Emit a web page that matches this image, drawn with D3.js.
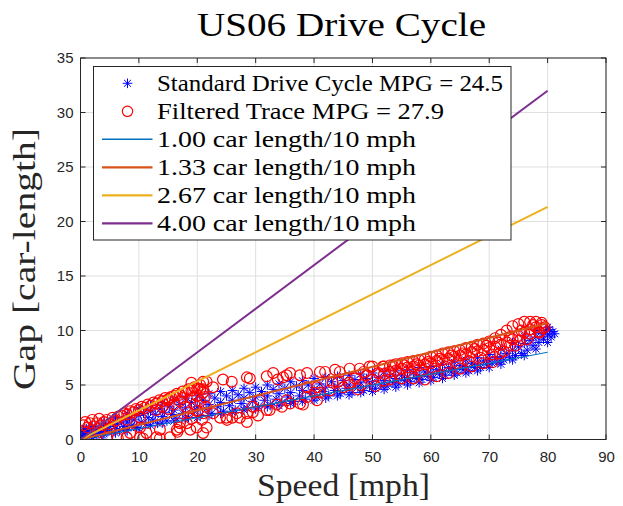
<!DOCTYPE html>
<html><head><meta charset="utf-8">
<script src="https://cdn.jsdelivr.net/npm/d3@7"></script>
<style>body{margin:0;background:#fff}svg{display:block}</style>
</head><body>
<svg id="c" width="623" height="506"></svg>
<script>
const title = "US06 Drive Cycle";
const xLabel = "Speed [mph]";
const yLabel = "Gap [car-length]";
const xTicks = [0,10,20,30,40,50,60,70,80,90];
const yTicks = [0,5,10,15,20,25,30,35];
const legendLabels = ["Standard Drive Cycle MPG = 24.5","Filtered Trace MPG = 27.9","1.00 car length/10 mph","1.33 car length/10 mph","2.67 car length/10 mph","4.00 car length/10 mph"];
const policySlopes = [0.1, 0.1333, 0.2667, 0.4];
const policyColors = ["#0072BD","#D95319","#EDB120","#7E2F8E"];
const policyWidths = [1.1, 2, 2, 2];
const policySpeedRange = [0, 80];

const standardPts = [[0,0.4],[0,0.7],[0.3,0.3],[0.5,0.9],[0.8,0.5],[1,0.2],[1.2,0.7],[1.5,0.4],[1.8,1.0],[2,0.6],[2.3,0.3],[2.6,0.9],[3,0.5],[3.2,1.1],[3.5,0.7],[3.8,0.4],[4,1.0],[4.3,1.3],[4.6,0.8],[5,1.2],[5.3,0.6],[5.6,1.5],[6,1.0],[6.3,1.4],[6.7,0.8],[7,1.7],[7.4,1.2],[7.8,0.9],[8,1.6],[8.4,2.0],[8.8,1.3],[9.2,1.8],[9.6,1.1],[10,2.2],[10.4,1.6],[10.8,2.4],[11.2,1.4],[11.6,2.0],[12,2.6],[12.4,1.8],[12.8,2.3],[13.2,1.5],[13.6,2.8],[14,2.1],[14.4,2.5],[14.8,1.7],[15.2,3.0],[15.6,2.3],[16,2.7],[16.5,1.9],[17,3.2],[17.5,2.4],[18,2.9],[18.5,2.0],[19,3.4],[19.5,2.6],[20,3.0],[20.5,2.2],[21,3.6],[21.5,2.8],[22,3.2],[22.5,2.4],[23,3.8],[23.5,3.0],[24,3.4],[24.5,2.6],[25,4.0],[25.5,3.1],[26,3.6],[26.5,2.7],[27,4.1],[27.5,3.3],[28,3.8],[28.5,2.9],[29,4.3],[29.5,3.5],[30,3.9],[30.5,3.0],[31,4.4],[31.5,3.6],[32,4.0],[32.5,3.2],[33,4.6],[33.5,3.7],[34,4.2],[34.5,3.4],[35,4.7],[35.5,3.9],[36,4.3],[36.5,3.5],[37,4.9],[37.5,4.0],[38,4.5],[38.5,3.7],[39,5.0],[39.5,4.2],[40,4.6],[40.5,3.9],[41,5.1],[41.5,4.4],[42,4.8],[42.5,4.0],[43,5.3],[43.5,4.5],[44,4.9],[44.5,4.2],[45,5.4],[45.5,4.7],[46,5.0],[46.5,4.3],[47,5.5],[47.5,4.8],[48,5.2],[48.5,4.5],[49,5.6],[49.5,4.9],[50,5.3],[50.5,4.7],[51,5.7],[51.5,5.0],[52,5.4],[52.5,4.9],[53,5.8],[53.5,5.2],[54,5.6],[54.5,5.1],[55,5.9],[55.5,5.4],[56,5.7],[56.5,5.3],[57,6.1],[57.5,5.6],[58,5.9],[58.5,5.5],[59,6.2],[59.5,5.8],[60,6.1],[60.5,5.7],[61,6.4],[61.5,6.0],[62,6.3],[62.5,5.9],[63,6.6],[63.5,6.2],[64,6.5],[64.5,6.1],[65,6.8],[65.5,6.4],[66,6.7],[66.5,6.3],[67,7.0],[67.5,6.6],[68,6.9],[68.5,6.6],[69,7.2],[69.5,6.9],[70,7.3],[70.5,7.0],[71,7.5],[71.5,7.1],[72,7.6],[72.5,7.3],[73,7.9],[73.5,7.5],[74,8.2],[74.5,7.7],[75,8.5],[75.5,7.9],[76,8.8],[76.5,8.2],[77,9.1],[77.5,8.6],[78,9.4],[78.5,8.9],[79,9.7],[79.3,9.2],[79.6,10.0],[80,9.6],[80.3,10.1],[80.6,9.4],[80.9,9.9],[81.2,9.7],
[1,1.0],[2,1.2],[2,0.2],[4,1.6],[4,0.5],[6,2.0],[6,0.6],[8,2.4],[8,0.8],[10,2.8],[10,1.0],[12,3.1],[12,1.3],[14,3.4],[14,1.5],[16,3.6],[16,1.7],[18,3.8],[18,1.9],[20,4.0],[20,2.0],[22,4.2],[22,2.2],[24,4.4],[24,2.4],[26,4.5],[26,2.5],[28,4.7],[28,2.7],[30,4.8],[30,2.8],[32,5.0],[32,3.0],[34,5.1],[34,3.1],[36,5.3],[36,3.3],[38,5.4],[38,3.5],[40,5.6],[40,3.6],[42,5.7],[42,3.8],[44,5.8],[44,4.0],[46,5.9],[46,4.1],[48,6.0],[48,4.3],[50,6.1],[50,4.4],[52,6.2],[52,4.6],[54,6.3],[54,4.8],[56,6.4],[56,5.0],[58,6.6],[58,5.2],[60,6.7],[60,5.4],[62,6.9],[62,5.6],[64,7.1],[64,5.9],[66,7.3],[66,6.1],[68,7.5],[68,6.3],[70,7.8],[70,6.6],[72,8.3],[72,6.9],[74,8.9],[74,7.3],[76,9.5],[76,7.7],[78,10.0],[78,8.3],[80,10.3],[80,8.9]];

const filteredPts = [
[0.5,1.3],[0.8,1.6],[1.2,1.1],[1.6,1.5],[2,1.8],[2.4,1.2],[2.8,1.5],[3.2,1.9],[3.6,1.3],[4,1.6],[4.5,1.8],[5,1.4],[5.5,2.0],[6,1.7],
[6.5,2.1],[7,2.2],[7.5,2.4],[8,2.3],[8.5,2.6],[9,2.5],[9.5,2.8],[10,2.7],[10.5,3.0],[11,2.9],[11.5,3.2],[12,3.1],[12.5,3.4],[13,3.3],[13.5,3.6],[14,3.5],[14.5,3.8],[15,3.7],[15.5,3.9],[16,4.0],[16.5,4.2],[17,4.1],[17.5,4.4],[18,4.3],[18.5,4.6],[19,4.5],[19.5,4.8],[20,4.7],[20.5,5.0],[21,4.6],
[17,3.5],[18,3.0],[19,3.8],[19.5,3.2],[20,4.0],[20.5,3.5],[21,4.3],[21.5,3.0],[20,2.6],[18.5,2.5],[21,5.3],[19,5.2],[16,3.2],[15,2.8],[14,3.0],[13,2.7],[20.5,4.6],[21.3,3.9],[17.5,3.8],[15,3.6],
[21.6,5.3],[22.7,4.8],[24.4,5.5],[25.9,5.3],[28.5,5.7],[29,5.6],[31.9,5.8],[33,6.1],[33.8,5.5],[34.7,5.7],[35.3,5.9],[35.9,6.1],[37.6,5.9],[38.8,6.1],[41,6.2],[41.9,6.2],[43.6,6.4],[44.4,6.2],[46.1,6.5],[47.8,6.5],[49.5,6.7],[50,6.7],[51.8,6.7],[53.5,6.8],
[4.5,0.2],[6.4,0.1],[7.9,0.2],[10.7,0.1],[13,0.2],[11.3,0.6],[10.2,1.1],[13.6,0.9],[16.6,0.7],[15.3,0.2],[17,1.5],[19,1.9],[21.6,1.1],[23.9,2.0],[21,2.4],[26,2.0],[28.5,2.4],[30.4,2.2],[10.2,2.0],[7.9,1.8],[5,1.0],[3.3,0.7],
[8.5,0.6],[10.2,0.2],[13.6,0.1],[16.5,0.9],[18.2,1.5],[19.9,1.1],[22.7,2.4],[25.1,1.8],[27.3,2.0],[29.5,2.5],[32.4,2.7],[35.3,3.6],[37.6,3.3],[38.8,3.9],[40.5,3.6],
[26.8,2.4],[28.5,1.6],[25,2.0],[20.8,1.8],[18.8,0.9],[17,1.1],[21,0.6],[29.5,3.0],[30.7,3.6],[31.9,2.7],[34.5,3.0],
[33.6,3.2],[35.9,3.3],[38.1,3.2],[40.1,4.3],[42.7,4.5],[44.1,5.3],[46.1,5.0],[38.8,4.8],[40.5,4.8],[41,4.3],[43.2,5.2],[45,4.8],
[46,5.2],[47,5.6],[48,5.0],[49,5.9],[50,5.5],[51,6.1],[50.5,4.9],[52,5.4],[48.5,6.2],[47.5,4.6],
[52,6.7],[53,6.8],[54,6.9],[55,7.0],[56,7.1],[57,7.2],[58,7.3],[59,7.4],[60,7.6],[61,7.7],[62,7.9],[63,8.0],[64,8.1],[65,8.2],[66,8.4],[67,8.5],[68,8.7],[69,8.8],[70,9.0],[71,9.3],[72,9.6],[73,10.0],[74,10.4],[75,10.6],[76,10.8],[77,10.8],[78,10.8],[79,10.7],[79.5,10.3],
[52,6.0],[53,6.2],[54,6.3],[55,6.5],[56,6.6],[57,6.7],[58,6.8],[59,6.9],[60,7.0],[61,7.2],[62,7.3],[63,7.4],[64,7.6],[65,7.7],[66,7.8],[67,8.0],[68,8.1],[69,8.2],[70,8.4],[71,8.5],[72,8.7],[73,8.9],[74,9.2],[75,9.5],[76,9.8],[77,10.1],[78,10.3],[79,10.5],
[53,5.5],[55,5.6],[57,5.6],[59,5.5],[61,5.8],[63,6.1],[65,6.5],[67,6.7],[69,7.0],[70.6,7.1],[71.8,7.9],[73.5,8.6],[75.3,9.1],[77,9.7],[78.6,9.8],[79.2,10.2],
[54.5,6.0],[56.5,6.1],[58.5,6.3],[60.5,6.5],[62.5,6.7],[64.5,7.0],[66.5,7.2],[68.5,7.5],[70.5,7.8],[72.5,8.1],[74.5,8.6],[76.5,9.2],[78.5,9.9],
[55.5,6.8],[57.5,6.9],[59.5,7.1],[61.5,7.4],[63.5,7.7],[65.5,7.9],[67.5,8.3],[69.5,8.6],[71.5,8.9],[73.5,9.4],[75.5,10.0],[77.5,10.5]
];

// pick first installed font from a list
function pickFont(cands, generic){
  const c = document.createElement("canvas").getContext("2d");
  const s = "mmmmmlllllWWWiiiii 0123456789 Gap";
  function w(f){ c.font = "40px " + f; return c.measureText(s).width; }
  const bm = w("monospace"), bs = w("sans-serif"), bf = w("serif");
  for(const f of cands){
    const q = `"${f}"`;
    if (w(`${q}, monospace`) !== bm || w(`${q}, sans-serif`) !== bs || w(`${q}, serif`) !== bf) return `"${f}", ${generic}`;
  }
  return generic;
}
const serif = pickFont(["Liberation Serif","Tinos","Times New Roman","DejaVu Serif","Noto Serif","FreeSerif","Nimbus Roman"], "serif");
const sans = pickFont(["Liberation Sans","Arimo","Arial","Helvetica","Roboto","Noto Sans"], "sans-serif");

const svg = d3.select("#c");
const L = 80.5, R = 606, T = 58, B = 439.5;
const x = d3.scaleLinear().domain([0,90]).range([L,R]);
const y = d3.scaleLinear().domain([0,35]).range([B,T]);
const axisCol = "#262626";

const grid = svg.append("g");
grid.selectAll(".gx").data(xTicks).enter().append("line")
  .attr("x1", d=>x(d)).attr("x2", d=>x(d)).attr("y1", T).attr("y2", B)
  .attr("stroke", "#dfdfdf").attr("stroke-width", 1);
grid.selectAll(".gy").data(yTicks).enter().append("line")
  .attr("x1", L).attr("x2", R).attr("y1", d=>y(d)).attr("y2", d=>y(d))
  .attr("stroke", "#dfdfdf").attr("stroke-width", 1);

svg.append("clipPath").attr("id","clip").append("rect").attr("x",L).attr("y",T).attr("width",R-L).attr("height",B-T);
const plot = svg.append("g").attr("clip-path","url(#clip)");

const ast = 4.8, ad = ast*0.72;
const astPath = `M${-ast},0L${ast},0M0,${-ast}L0,${ast}M${-ad},${-ad}L${ad},${ad}M${-ad},${ad}L${ad},${-ad}`;
plot.append("g").selectAll("path").data(standardPts).enter().append("path")
  .attr("transform", d=>`translate(${x(d[0])},${y(d[1])})`)
  .attr("d", astPath).attr("stroke", "#0000FF").attr("stroke-width", 1).attr("fill","none");

plot.append("g").selectAll("circle").data(filteredPts).enter().append("circle")
  .attr("cx", d=>x(d[0])).attr("cy", d=>y(d[1])).attr("r", 5.4)
  .attr("fill","none").attr("stroke","#FF0000").attr("stroke-width",1.2);

plot.append("g").selectAll("line").data(policySlopes).enter().append("line")
  .attr("x1", x(policySpeedRange[0])).attr("y1", d=>y(d*policySpeedRange[0]))
  .attr("x2", x(policySpeedRange[1])).attr("y2", d=>y(d*policySpeedRange[1]))
  .attr("stroke", (d,i)=>policyColors[i]).attr("stroke-width", (d,i)=>policyWidths[i]);

const tickLen = 5;
const ax = svg.append("g");
ax.append("rect").attr("x",L).attr("y",T).attr("width",R-L).attr("height",B-T)
  .attr("fill","none").attr("stroke",axisCol).attr("stroke-width",1);
xTicks.forEach(t=>{
  ax.append("line").attr("x1",x(t)).attr("x2",x(t)).attr("y1",B).attr("y2",B-tickLen).attr("stroke",axisCol);
  ax.append("line").attr("x1",x(t)).attr("x2",x(t)).attr("y1",T).attr("y2",T+tickLen).attr("stroke",axisCol);
});
yTicks.forEach(t=>{
  ax.append("line").attr("x1",L).attr("x2",L+tickLen).attr("y1",y(t)).attr("y2",y(t)).attr("stroke",axisCol);
  ax.append("line").attr("x1",R).attr("x2",R-tickLen).attr("y1",y(t)).attr("y2",y(t)).attr("stroke",axisCol);
});
svg.append("g").attr("transform",`translate(0,${B+12})`)
  .call(d3.axisBottom(x).tickValues(xTicks).tickSize(0).tickPadding(0))
  .call(g=>{g.select(".domain").remove(); g.selectAll("text").attr("font-family",sans).attr("font-size",15).attr("fill",axisCol).attr("dy","0.71em");});
svg.append("g").attr("transform",`translate(${L-7},0)`)
  .call(d3.axisLeft(y).tickValues(yTicks).tickSize(0).tickPadding(0))
  .call(g=>{g.select(".domain").remove(); g.selectAll("text").attr("font-family",sans).attr("font-size",15).attr("fill",axisCol);});

svg.append("text").attr("font-family",serif).attr("x",341.5).attr("y",36).attr("text-anchor","middle")
  .attr("font-size",33).attr("fill","#000")
  .attr("textLength",289).attr("lengthAdjust","spacingAndGlyphs").text(title);
svg.append("text").attr("font-family",serif).attr("x",343.5).attr("y",496).attr("text-anchor","middle")
  .attr("font-size",31).attr("fill",axisCol)
  .attr("textLength",173).attr("lengthAdjust","spacingAndGlyphs").text(xLabel);
svg.append("text").attr("font-family",serif).attr("transform","translate(35,259) rotate(-90)").attr("text-anchor","middle")
  .attr("font-size",31).attr("fill",axisCol)
  .attr("textLength",262).attr("lengthAdjust","spacingAndGlyphs").text(yLabel);

const lg = svg.append("g");
lg.append("rect").attr("x",93.5).attr("y",66.5).attr("width",417.5).attr("height",173.5)
  .attr("fill","#fff").attr("stroke",axisCol).attr("stroke-width",1);
const rowY = [83.3,111.3,139.3,167.3,195.3,223.3];
const textEnds = [503,444,416,416,416,416];
legendLabels.forEach((lab,i)=>{
  const cy = rowY[i];
  if(i===0){
    lg.append("path").attr("transform",`translate(127.5,${cy})`).attr("d",astPath)
      .attr("stroke","#0000FF").attr("stroke-width",1).attr("fill","none");
  } else if(i===1){
    lg.append("circle").attr("cx",127.5).attr("cy",cy).attr("r",5.2).attr("fill","none").attr("stroke","#FF0000").attr("stroke-width",1.2);
  } else {
    lg.append("line").attr("x1",102).attr("x2",152.5).attr("y1",cy).attr("y2",cy)
      .attr("stroke",policyColors[i-2]).attr("stroke-width",policyWidths[i-2]+0.3);
  }
  lg.append("text").attr("font-family",serif).attr("x",157).attr("y",cy+7.5).attr("font-size",22.5).attr("fill","#000")
    .attr("textLength",textEnds[i]-157).attr("lengthAdjust","spacingAndGlyphs").text(lab);
});
</script>
</body></html>
